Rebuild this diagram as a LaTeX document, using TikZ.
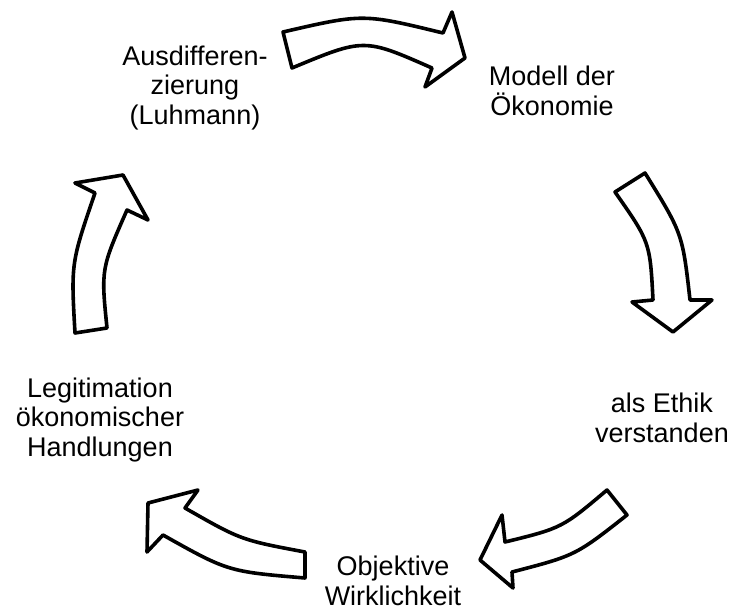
\documentclass[tikz,border=0pt]{standalone}
\usepackage{fontspec}
\setmainfont{Liberation Sans}
\begin{document}
\begin{tikzpicture}[x=1pt,y=-1pt,
  blockarrow/.style={draw=black,fill=white,line width=3.6pt,line join=round},
  lbl/.style={align=center,inner sep=0pt,font=\fontsize{27}{29.5}\selectfont}]
\useasboundingbox (0,0) rectangle (736,610);
% arrows
\draw[blockarrow] (283,32) .. controls (363,13.5) .. (443,33) -- (452,12) -- (465,58) -- (425,87) -- (432,68) .. controls (364,38) .. (292,68) -- cycle;
\draw[blockarrow] (615,192) -- (645,173) .. controls (682.5,233.5) .. (690,300) -- (712,300) -- (673,332) -- (632,302) -- (653,300) .. controls (650,242) .. (615,192) -- cycle;
\draw[blockarrow] (627,515) -- (607,490) .. controls (562,528) .. (505,542) -- (502,515) -- (480,560) -- (513,588) -- (512,572) .. controls (575.5,555.5) .. (627,515) -- cycle;
\draw[blockarrow] (305,552) .. controls (241,540) .. (185,508) -- (198,490) -- (148,503) -- (147,552) -- (163,535) .. controls (228,571.5) .. (305,578) -- cycle;
\draw[blockarrow] (107,328) -- (75,333) .. controls (71,263) .. (95,193) -- (75,183) -- (123,175) -- (148,220) -- (127,210) .. controls (101,269) .. (107,328) -- cycle;
% labels
\node[lbl] (ausd) at (195,88) {Ausdifferen-\\zierung\\(Luhmann)};
\node[lbl] (modell) at (552,91) {Modell der\\Ökonomie};
\node[lbl] (ethik) at (662,418) {als Ethik\\verstanden};
\node[lbl] (obj) at (393,581) {Objektive\\Wirklichkeit};
\node[lbl] (legit) at (100,420) {Legitimation\\ökonomischer\\Handlungen};
\end{tikzpicture}
\end{document}
